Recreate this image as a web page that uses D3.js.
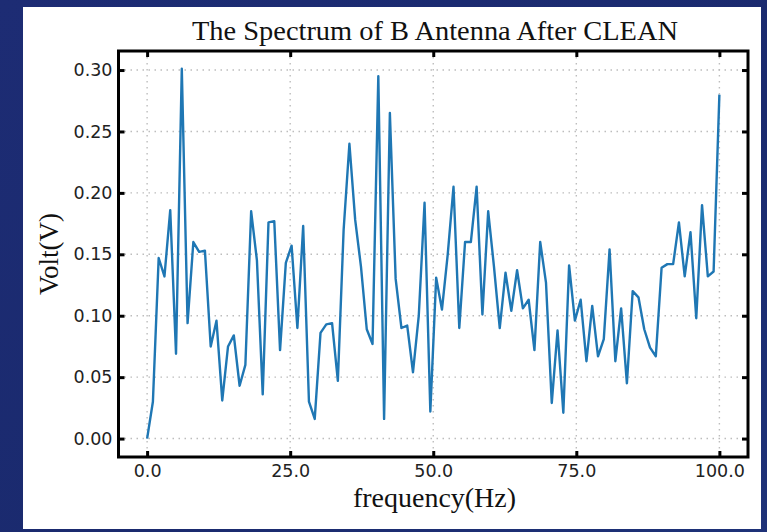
<!DOCTYPE html>
<html><head><meta charset="utf-8">
<script src="https://cdn.jsdelivr.net/npm/d3@7/dist/d3.min.js"></script>
<style>html,body{margin:0;padding:0;overflow:hidden;}</style>
</head><body>
<svg id="c" width="767" height="532"></svg>
<script>
const title = "The Spectrum of B Antenna After CLEAN";
const xLabel = "frequency(Hz)";
const yLabel = "Volt(V)";
const frequency = [0.00,1.01,2.02,3.03,4.04,5.05,6.06,7.07,8.08,9.09,10.10,11.11,12.12,13.13,14.14,15.15,16.16,17.17,18.18,19.19,
20.20,21.21,22.22,23.23,24.24,25.25,26.26,27.27,28.28,29.29,30.30,31.31,32.32,33.33,34.34,35.35,36.36,37.37,38.38,39.39,
40.40,41.41,42.42,43.43,44.44,45.45,46.46,47.47,48.48,49.49,50.51,51.52,52.53,53.54,54.55,55.56,56.57,57.58,58.59,59.60,
60.61,61.62,62.63,63.64,64.65,65.66,66.67,67.68,68.69,69.70,70.71,71.72,72.73,73.74,74.75,75.76,76.77,77.78,78.79,79.80,
80.81,81.82,82.83,83.84,84.85,85.86,86.87,87.88,88.89,89.90,90.91,91.92,92.93,93.94,94.95,95.96,96.97,97.98,98.99,100.00];
const volt = [0.000,0.030,0.147,0.132,0.186,0.069,0.301,0.094,0.160,0.152,
0.153,0.075,0.096,0.031,0.075,0.084,0.043,0.060,0.185,0.145,
0.036,0.176,0.177,0.072,0.143,0.157,0.090,0.173,0.030,0.016,
0.086,0.093,0.094,0.047,0.170,0.240,0.178,0.140,0.089,0.077,
0.295,0.016,0.265,0.130,0.090,0.092,0.054,0.100,0.192,0.022,
0.131,0.105,0.150,0.205,0.090,0.160,0.160,0.205,0.101,0.185,
0.140,0.090,0.135,0.104,0.137,0.106,0.113,0.072,0.160,0.127,
0.029,0.088,0.021,0.141,0.096,0.113,0.063,0.108,0.067,0.081,
0.154,0.063,0.106,0.045,0.120,0.115,0.089,0.074,0.067,0.139,
0.142,0.142,0.176,0.132,0.168,0.098,0.190,0.132,0.136,0.280];
const xTicks = [0, 25, 50, 75, 100];
const xTickLabels = ["0.0", "25.0", "50.0", "75.0", "100.0"];
const yTicks = [0, 0.05, 0.10, 0.15, 0.20, 0.25, 0.30];
const yTickLabels = ["0.00", "0.05", "0.10", "0.15", "0.20", "0.25", "0.30"];

const svg = d3.select("#c");
const defs = svg.append("defs");
const g1 = defs.append("linearGradient").attr("id","bg").attr("x1","0").attr("y1","0").attr("x2","1").attr("y2","1");
g1.append("stop").attr("offset","0").attr("stop-color","#1d2c74");
g1.append("stop").attr("offset","0.6").attr("stop-color","#1a2a6e");
g1.append("stop").attr("offset","1").attr("stop-color","#1e3278");
svg.append("rect").attr("width",767).attr("height",532).attr("fill","url(#bg)");
svg.append("rect").attr("x",23).attr("y",7).attr("width",738).attr("height",522).attr("fill","#ffffff");

const L = 118.5, R = 748, T = 51, B = 457;
const x = d3.scaleLinear().domain([-5, 105]).range([L, R]);
const y = d3.scaleLinear().domain([-0.015, 0.3155]).range([B, T]);

// grid
const grid = svg.append("g").attr("stroke","#bdbdbd").attr("stroke-width",1.4).attr("stroke-dasharray","1.5,4.5");
grid.selectAll(".gx").data(xTicks).join("line").attr("x1",d=>x(d)).attr("x2",d=>x(d)).attr("y1",T).attr("y2",B);
grid.selectAll(".gy").data(yTicks).join("line").attr("y1",d=>y(d)).attr("y2",d=>y(d)).attr("x1",L).attr("x2",R);

// line
const line = d3.line().x((d,i)=>x(frequency[i])).y(d=>y(d));
svg.append("path").datum(volt).attr("d",line).attr("fill","none").attr("stroke","#1f77b4").attr("stroke-width",2.4).attr("stroke-linejoin","round");

// axes
const fmtX = (d)=>xTickLabels[xTicks.indexOf(d)];
const fmtY = (d)=>yTickLabels[yTicks.indexOf(d)];
function styleAxis(sel){
  sel.select(".domain").remove();
  sel.selectAll(".tick line").attr("stroke","#000").attr("stroke-width",3);
  sel.selectAll("text").attr("font-family","DejaVu Sans, sans-serif").attr("font-size","17.5px").attr("fill","#222");
}
svg.append("g").attr("transform",`translate(0,${B})`)
  .call(d3.axisBottom(x).tickValues(xTicks).tickFormat(fmtX).tickSize(-6).tickPadding(8))
  .call(styleAxis);
svg.append("g").attr("transform",`translate(0,${T})`)
  .call(d3.axisTop(x).tickValues(xTicks).tickFormat("").tickSize(-6))
  .call(styleAxis);
svg.append("g").attr("transform",`translate(${L},0)`)
  .call(d3.axisLeft(y).tickValues(yTicks).tickFormat(fmtY).tickSize(-6).tickPadding(6))
  .call(styleAxis);
svg.append("g").attr("transform",`translate(${R},0)`)
  .call(d3.axisRight(y).tickValues(yTicks).tickFormat("").tickSize(-6))
  .call(styleAxis);

// frame
svg.append("rect").attr("x",L).attr("y",T).attr("width",R-L).attr("height",B-T)
  .attr("fill","none").attr("stroke","#000").attr("stroke-width",3);

// labels
const serif = "Liberation Serif, Times New Roman, serif";
svg.append("text").attr("x",435).attr("y",40).attr("text-anchor","middle")
  .attr("font-family",serif).attr("font-size","28px").attr("fill","#111")
  .attr("textLength",486).attr("lengthAdjust","spacingAndGlyphs").text(title);
svg.append("text").attr("x",434.5).attr("y",507).attr("text-anchor","middle")
  .attr("font-family",serif).attr("font-size","28px").attr("fill","#111")
  .attr("textLength",163).attr("lengthAdjust","spacingAndGlyphs").text(xLabel);
svg.append("text").attr("transform","translate(58,254) rotate(-90)").attr("text-anchor","middle")
  .attr("font-family",serif).attr("font-size","27px").attr("fill","#111").text(yLabel);
</script>
</body></html>
